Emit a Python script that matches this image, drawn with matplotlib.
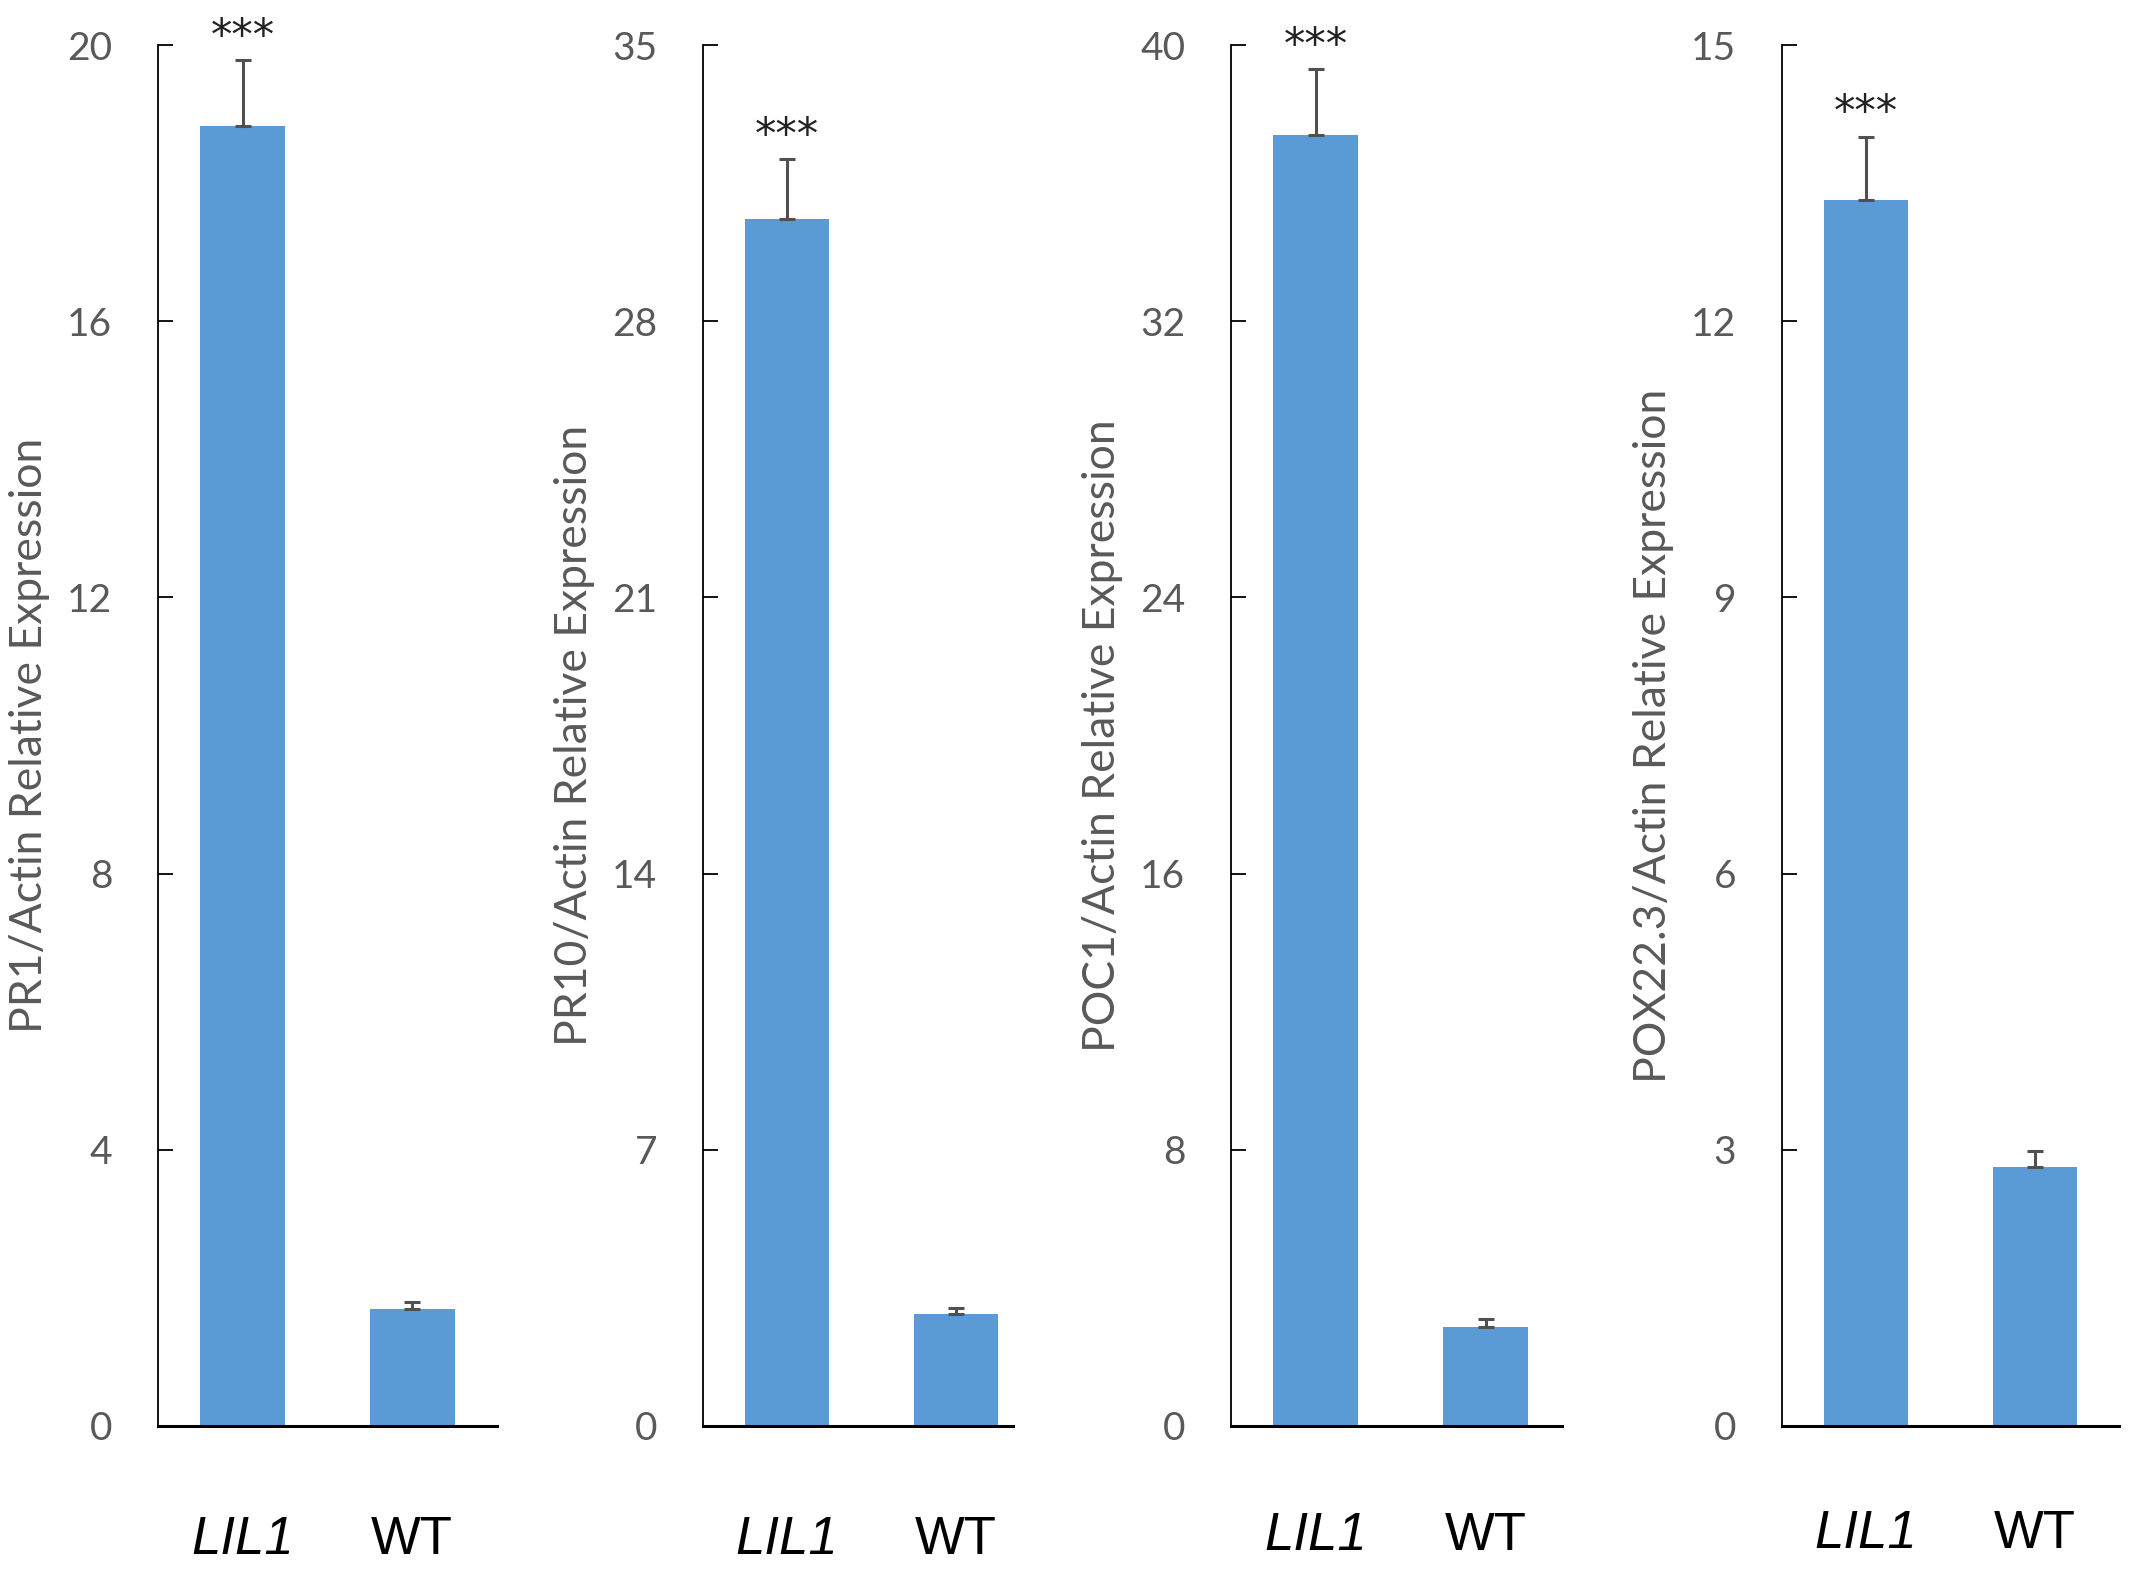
import matplotlib.pyplot as plt

# 数据
genes = ['PR1', 'PR10', 'POC1', 'POX22.3']
groups = ['LIL1', 'WT']
lil1_mean = [18.82, 30.6, 37.4, 13.32]
lil1_err = [0.96, 1.5, 1.9, 0.68]
wt_mean = [1.69, 2.83, 2.88, 2.81]
wt_err = [0.1, 0.17, 0.23, 0.18]
y_max = [20, 35, 40, 15]
y_step = [4, 7, 8, 3]

# 坐标轴位置 (像素)
W, H = 2133, 1571
axes_px = [(158, 497), (703, 1013), (1231, 1562), (1782, 2119)]
xlims = [(-0.5, 1.5), (-0.5, 1.34), (-0.5, 1.45), (-0.5, 1.5)]
xpads = [64, 64, 61, 60]
y_top, y_bot = 45, 1426

bar_color = '#5B9BD5'
gray = '#595959'

fig = plt.figure(figsize=(W / 100, H / 100), dpi=100)

for i in range(4):
    l, r = axes_px[i]
    ax = fig.add_axes([l / W, 1 - y_bot / H, (r - l) / W, (y_bot - y_top) / H])
    vals = [lil1_mean[i], wt_mean[i]]
    errs = [[0, 0], [lil1_err[i], wt_err[i]]]
    ax.bar([0, 1], vals, width=0.5, color=bar_color, zorder=2)
    ax.errorbar([0, 1], vals, yerr=errs, fmt='none', ecolor='#505050',
                elinewidth=2.2, capsize=6, capthick=2.2, zorder=3)
    # 显著性标记
    ax.annotate('***', (0, lil1_mean[i] + lil1_err[i]), xytext=(0, 17),
                textcoords='offset points', ha='center', va='center',
                fontsize=31, color='#222222')

    ax.set_ylim(0, y_max[i])
    ax.set_xlim(*xlims[i])
    ax.set_yticks(range(0, y_max[i] + 1, y_step[i]))
    ax.tick_params(axis='y', direction='in', length=11, width=1.3,
                   pad=33, labelsize=28, labelcolor=gray)
    for t in ax.get_yticklabels():
        t.set_fontfamily('Lato')
    ax.set_xticks([0, 1])
    ax.set_xticklabels(groups)
    ax.tick_params(axis='x', length=0, pad=xpads[i], labelsize=38)
    xl = ax.get_xticklabels()
    for t in xl:
        t.set_fontfamily('Liberation Sans')
    xl[0].set_fontstyle('italic')

    ax.set_ylabel(genes[i] + '/Actin Relative Expression', fontsize=32,
                  color=gray, family='Lato', labelpad=12)

    ax.spines['top'].set_visible(False)
    ax.spines['right'].set_visible(False)
    ax.spines['left'].set_linewidth(1.3)
    ax.spines['bottom'].set_linewidth(2.2)

plt.savefig('out.png', dpi=100)
